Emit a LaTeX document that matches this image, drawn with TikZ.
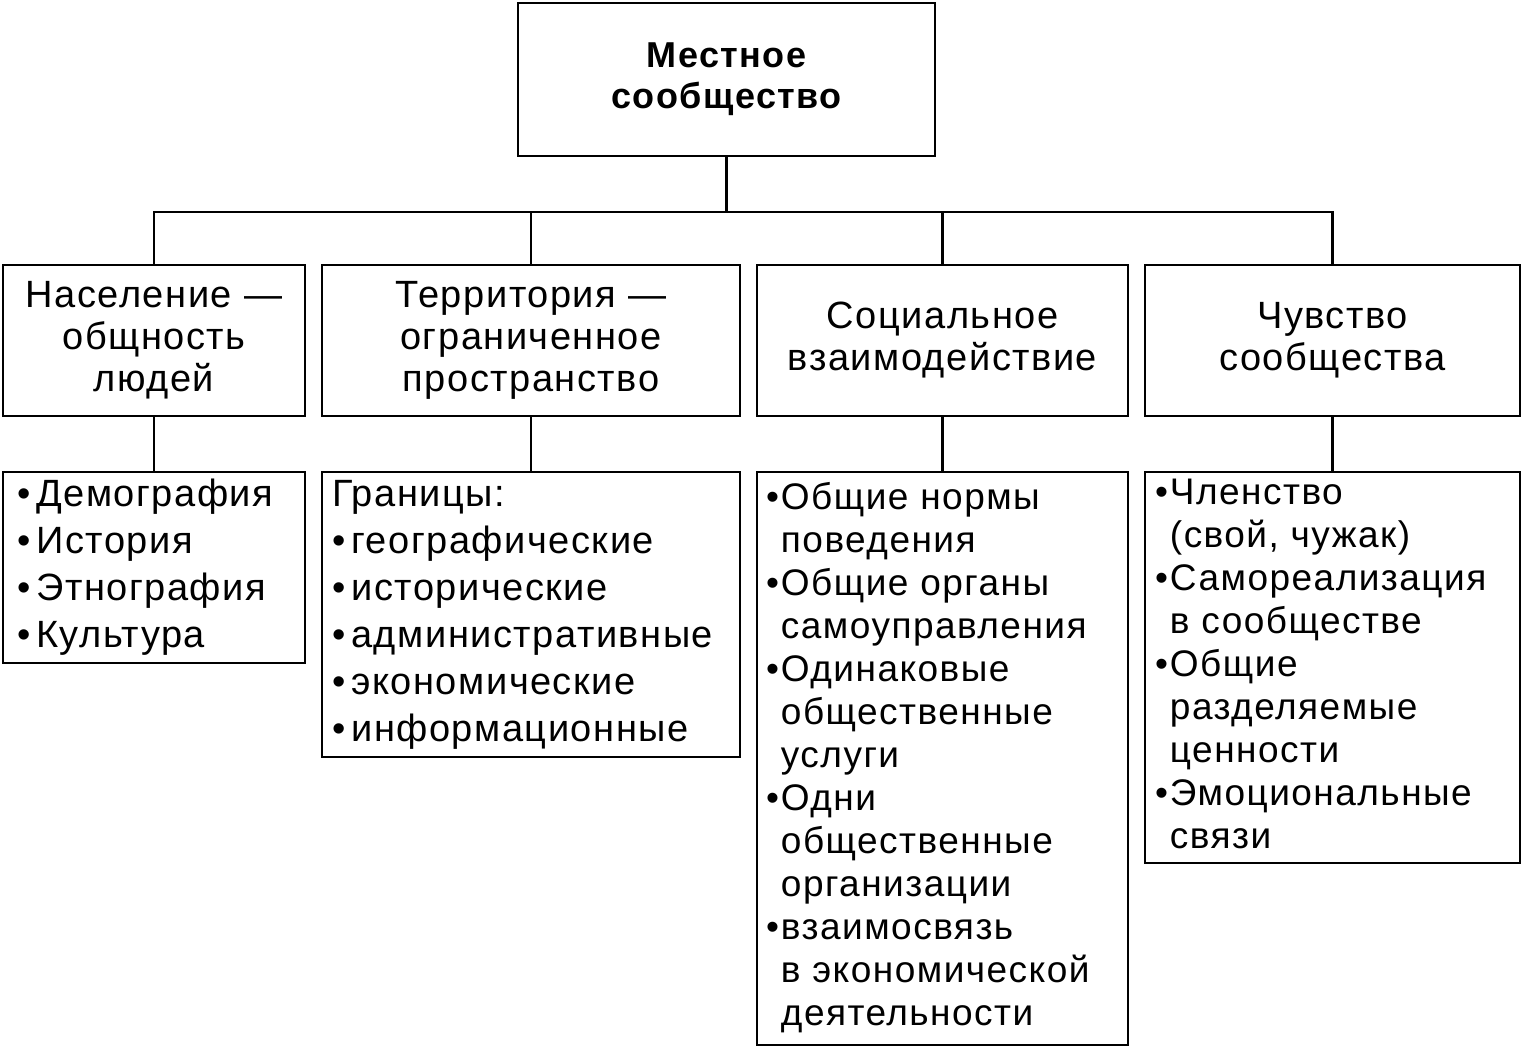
\documentclass[tikz,border=0pt]{standalone}
\usepackage{fontspec}
\setmainfont{Liberation Sans}[LetterSpace=4]
\begin{document}
\begin{tikzpicture}[x=1pt,y=-1pt,
  box/.style={draw,line width=2.6pt,rectangle,inner sep=0pt,align=center},
  list/.style={box,align=left},
  ln/.style={line width=2.4pt},
  txt/.style={font=\fontsize{38}{42}\selectfont}]
\useasboundingbox (0,0) rectangle (1523,1049);
\node[box,minimum width=417,minimum height=153,font=\fontsize{36}{41}\selectfont\bfseries] (top) at (726.5,79.5) {Местное\\сообщество};
\node[box,txt,minimum width=302,minimum height=151] (a) at (154,340.5) {Население —\\общность\\людей};
\node[box,txt,minimum width=418,minimum height=151] (b) at (531,340.5) {Территория —\\ограниченное\\пространство};
\node[box,txt,minimum width=371,minimum height=151] (c) at (942.5,340.5) {Социальное\\взаимодействие};
\node[box,txt,minimum width=375,minimum height=151] (d) at (1332.5,340.5) {Чувство\\сообщества};
\node[list,minimum width=302,minimum height=191,font=\fontsize{38}{46}\selectfont] (a2) at (154,567.5) {\makebox[302pt][l]{\hspace{14pt}\begin{tabular}{@{}l@{}}•\hspace{6pt}Демография\\[1pt] •\hspace{6pt}История\\[1pt] •\hspace{6pt}Этнография\\[1pt] •\hspace{6pt}Культура\end{tabular}}};
\node[list,minimum width=418,minimum height=285,font=\fontsize{38}{46}\selectfont] (b2) at (531,614.5) {\makebox[418pt][l]{\hspace{10pt}\begin{tabular}{@{}l@{}}Границы:\\[1pt] •\hspace{6pt}географические\\[1pt] •\hspace{6pt}исторические\\[1pt] •\hspace{6pt}административные\\[1pt] •\hspace{6pt}экономические\\[1pt] •\hspace{6pt}информационные\end{tabular}}};
\node[list,minimum width=371,minimum height=573,font=\fontsize{37}{43}\selectfont] (c2) at (942.5,758.5) {\makebox[371pt][l]{\hspace{9pt}\begin{tabular}{@{}l@{}}•\hspace{2pt}Общие нормы\\ \hphantom{•\hspace{2pt}}поведения\\ •\hspace{2pt}Общие органы\\ \hphantom{•\hspace{2pt}}самоуправления\\ •\hspace{2pt}Одинаковые\\ \hphantom{•\hspace{2pt}}общественные\\ \hphantom{•\hspace{2pt}}услуги\\ •\hspace{2pt}Одни\\ \hphantom{•\hspace{2pt}}общественные\\ \hphantom{•\hspace{2pt}}организации\\ •\hspace{2pt}взаимосвязь\\ \hphantom{•\hspace{2pt}}в экономической\\ \hphantom{•\hspace{2pt}}деятельности\end{tabular}}};
\node[list,minimum width=375,minimum height=391,font=\fontsize{37}{43}\selectfont] (d2) at (1332.5,667.5) {\makebox[375pt][l]{\hspace{10pt}\begin{tabular}{@{}l@{}}•\hspace{2pt}Членство\\ \hphantom{•\hspace{2pt}}(свой, чужак)\\ •\hspace{2pt}Самореализация\\ \hphantom{•\hspace{2pt}}в сообществе\\ •\hspace{2pt}Общие\\ \hphantom{•\hspace{2pt}}разделяемые\\ \hphantom{•\hspace{2pt}}ценности\\ •\hspace{2pt}Эмоциональные\\ \hphantom{•\hspace{2pt}}связи\end{tabular}}};
\draw[ln] (a.north) -- ++(0,-52) coordinate (ba) -| (d.north);
\draw[ln] (b.north) -- (b.north |- ba);
\draw[ln] (c.north) -- (c.north |- ba);
\draw[ln] (top.south) -- (top.south |- ba);
\foreach \u/\l in {a/a2,b/b2,c/c2,d/d2} \draw[ln] (\u.south) -- (\l.north);
\end{tikzpicture}
\end{document}
